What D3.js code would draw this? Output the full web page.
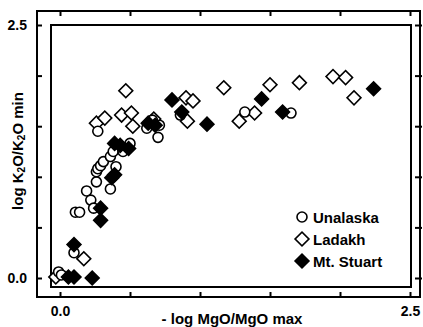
<!DOCTYPE html>
<html>
<head>
<meta charset="utf-8">
<script src="https://cdn.jsdelivr.net/npm/d3@7"></script>
<style>
  body { margin: 0; background: #fff; }
  svg { display: block; font-family: "Liberation Sans", Arial, Helvetica, sans-serif; font-weight: bold; }
</style>
</head>
<body>
<svg id="chart" width="423" height="327"></svg>
<script>
// data: [ -log MgO/MgO max , log K2O/K2O min ]
const unalaska = [
  [-0.01, 0.06], [0.01, 0.03], [0.10, 0.25], [0.11, 0.65], [0.14, 0.65],
  [0.19, 0.86], [0.22, 0.77], [0.24, 0.69], [0.26, 0.95], [0.26, 1.05],
  [0.27, 1.08], [0.29, 1.11], [0.31, 1.15], [0.36, 1.20], [0.36, 0.88],
  [0.40, 1.10], [0.38, 1.25], [0.45, 1.25], [0.50, 1.33], [0.27, 1.45],
  [0.62, 1.48], [0.70, 1.39], [0.71, 1.51], [0.66, 1.56], [0.86, 1.61],
  [1.32, 1.64], [1.65, 1.63]
];
const ladakh = [
  [-0.03, 0.01], [0.17, 0.19], [0.26, 1.53], [0.32, 1.58], [0.44, 1.61],
  [0.47, 1.85], [0.51, 1.63], [0.52, 1.50], [0.67, 1.57], [0.90, 1.78],
  [0.95, 1.75], [0.91, 1.55], [1.17, 1.88], [1.28, 1.55], [1.39, 1.63],
  [1.50, 1.91], [1.71, 1.93], [1.95, 1.99], [2.04, 1.98], [2.10, 1.78]
];
const mtStuart = [
  [0.06, 0.01], [0.10, 0.01], [0.23, 0.00], [0.10, 0.33], [0.29, 0.69],
  [0.29, 0.57], [0.37, 0.99], [0.39, 1.02], [0.39, 1.33], [0.43, 1.31],
  [0.49, 1.28], [0.63, 1.53], [0.68, 1.51], [0.80, 1.76], [0.87, 1.64],
  [1.05, 1.52], [1.44, 1.77], [1.59, 1.64], [2.24, 1.87]
];
const tickValues = [0, 0.5, 1, 1.5, 2, 2.5];
const labelledTicks = [0, 2.5];
const legendNames = ["Unalaska", "Ladakh", "Mt. Stuart"];

const svg = d3.select("#chart");

const x = d3.scaleLinear().domain([0, 2.5]).range([60, 410]);
const y = d3.scaleLinear().domain([0, 2.5]).range([278, 25]);

// outer frame and inner box
const frame = { left: 37, right: 420, top: 11, bottom: 297 };
svg.append("rect")
  .attr("x", frame.left).attr("y", frame.top)
  .attr("width", frame.right - frame.left).attr("height", frame.bottom - frame.top)
  .attr("fill", "none").attr("stroke", "#000").attr("stroke-width", 2);
svg.append("rect")
  .attr("x", 51).attr("y", 25).attr("width", 360).attr("height", 262)
  .attr("fill", "none").attr("stroke", "#000").attr("stroke-width", 2);

const fmt = d => labelledTicks.includes(d) ? d3.format(".1f")(d) : "";

function styleAxis(g) {
  g.select(".domain").remove();
  g.selectAll(".tick line").attr("stroke", "#000").attr("stroke-width", 2);
  g.selectAll(".tick text").attr("fill", "#000")
    .style("font-size", "14px").style("font-weight", "bold")
    .style("font-family", "'Liberation Sans', Arial, sans-serif");
}

// left axis (ticks point inward)
svg.append("g")
  .attr("transform", `translate(${frame.left},0)`)
  .call(d3.axisLeft(y).tickValues(tickValues).tickSize(-5).tickPadding(10).tickFormat(fmt))
  .call(styleAxis);

// right ticks
svg.append("g")
  .attr("transform", `translate(${frame.right + 2},0)`)
  .call(d3.axisRight(y).tickValues(tickValues).tickSize(-7).tickFormat(""))
  .call(styleAxis);

// bottom axis (ticks point up)
svg.append("g")
  .attr("transform", `translate(0,${frame.bottom})`)
  .call(d3.axisBottom(x).tickValues(tickValues).tickSize(-5).tickPadding(9).tickFormat(fmt))
  .call(styleAxis);

// top ticks
svg.append("g")
  .attr("transform", `translate(0,${frame.top})`)
  .call(d3.axisTop(x).tickValues(tickValues).tickSize(-5).tickFormat(""))
  .call(styleAxis);

// axis titles
svg.append("text")
  .attr("x", 232).attr("y", 324)
  .attr("text-anchor", "middle")
  .style("font-size", "15px")
  .text("- log MgO/MgO max");

const yTitle = svg.append("text")
  .attr("transform", "translate(23,151) rotate(-90)")
  .attr("text-anchor", "middle")
  .style("font-size", "15px");
yTitle.append("tspan").text("log K");
yTitle.append("tspan").text("2").style("font-size", "10px").attr("dy", 2);
yTitle.append("tspan").text("O/K").attr("dy", -2);
yTitle.append("tspan").text("2").style("font-size", "10px").attr("dy", 2);
yTitle.append("tspan").text("O min").attr("dy", -2);

// markers
const diamond = d3.symbol().type(d3.symbolSquare).size(96);

function drawDiamonds(data, fill) {
  svg.append("g").selectAll("path")
    .data(data)
    .enter()
    .append("path")
    .attr("d", diamond)
    .attr("transform", d => `translate(${x(d[0])},${y(d[1])}) rotate(45)`)
    .attr("fill", fill)
    .attr("stroke", "#000")
    .attr("stroke-width", 1.6);
}

drawDiamonds(ladakh, "#fff");

svg.append("g").selectAll("circle")
  .data(unalaska)
  .enter()
  .append("circle")
  .attr("cx", d => x(d[0]))
  .attr("cy", d => y(d[1]))
  .attr("r", 5)
  .attr("fill", "#fff")
  .attr("stroke", "#000")
  .attr("stroke-width", 1.6);

drawDiamonds(mtStuart, "#000");

// legend
const legend = svg.append("g").attr("transform", "translate(302,217)");
legendNames.forEach((name, i) => {
  const row = legend.append("g").attr("transform", `translate(0,${i * 22})`);
  if (i === 0) {
    row.append("circle").attr("r", 5).attr("fill", "#fff")
      .attr("stroke", "#000").attr("stroke-width", 1.6);
  } else {
    row.append("path").attr("d", diamond).attr("transform", "rotate(45)")
      .attr("fill", i === 1 ? "#fff" : "#000")
      .attr("stroke", "#000").attr("stroke-width", 1.6);
  }
  row.append("text")
    .attr("x", 11).attr("y", 5.5)
    .style("font-size", "15px")
    .text(name);
});
</script>
</body>
</html>
